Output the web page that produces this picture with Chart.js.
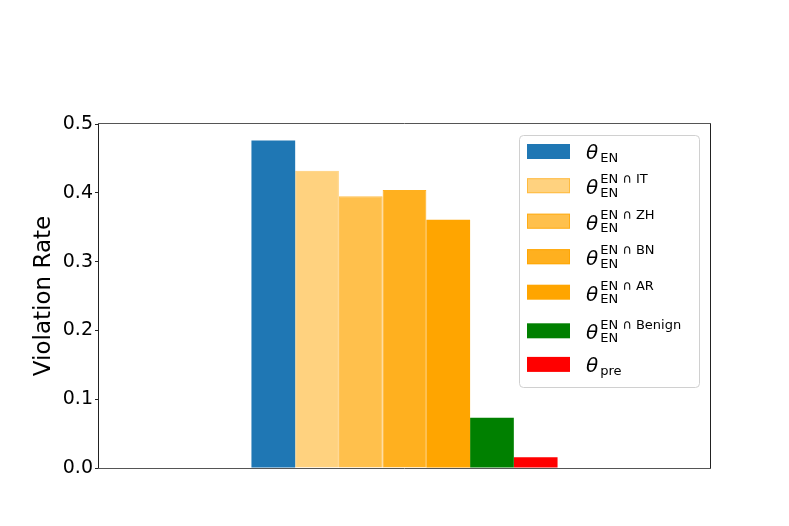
<!DOCTYPE html>
<html>
<head>
<meta charset="utf-8">
<script src="https://cdn.jsdelivr.net/npm/chart.js@4/dist/chart.umd.min.js"></script>
<style>
  html, body { margin: 0; padding: 0; background: #fff; }
  #wrap { width: 789px; height: 526px; }
</style>
</head>
<body>
<div id="wrap"><canvas id="c" width="789" height="526"></canvas></div>
<script>
// ---- data ----
const categories = [''];
const seriesNames = ['θ_EN', 'θ_EN^{EN ∩ IT}', 'θ_EN^{EN ∩ ZH}', 'θ_EN^{EN ∩ BN}', 'θ_EN^{EN ∩ AR}', 'θ_EN^{EN ∩ Benign}', 'θ_pre'];
const legendBase = ['θ', 'θ', 'θ', 'θ', 'θ', 'θ', 'θ'];
const legendSub = ['EN', 'EN', 'EN', 'EN', 'EN', 'EN', 'pre'];
const legendSup = ['', 'EN ∩ IT', 'EN ∩ ZH', 'EN ∩ BN', 'EN ∩ AR', 'EN ∩ Benign', ''];
const violationRates = [0.476, 0.432, 0.395, 0.404, 0.361, 0.073, 0.0155];
const yTicks = [0.0, 0.1, 0.2, 0.3, 0.4, 0.5];
const yTitle = 'Violation Rate';

// ---- styles ----
const fillColors = ['#1f77b4', 'rgba(255,165,0,0.5)', 'rgba(255,165,0,0.7)', 'rgba(255,165,0,0.88)', 'rgba(255,165,0,1)', '#008000', '#ff0000'];
const edgeColors = ['#1f77b4', 'rgba(255,165,0,0.5)', 'rgba(255,165,0,0.7)', 'rgba(255,165,0,0.88)', 'rgba(255,165,0,1)', '#008000', '#ff0000'];

const datasets = seriesNames.map((name, i) => ({
  label: name,
  data: [violationRates[i]],
  backgroundColor: fillColors[i],
  borderColor: edgeColors[i],
  borderWidth: (i >= 1 && i <= 3) ? 1 : 0,
  barPercentage: 1.0,
  categoryPercentage: 0.501
}));

const framePlugin = {
  id: 'frame',
  afterDatasetsDraw(chart) {
    const {ctx, chartArea: a} = chart;
    ctx.save();
    ctx.strokeStyle = '#222';
    ctx.lineWidth = 1;
    ctx.beginPath();
    ctx.moveTo(Math.round(a.left) - 0.5, a.top);
    ctx.lineTo(Math.round(a.left) - 0.5, a.bottom);
    ctx.moveTo(Math.round(a.right) + 0.5, a.top);
    ctx.lineTo(Math.round(a.right) + 0.5, a.bottom);
    ctx.stroke();
    ctx.strokeStyle = '#555';
    ctx.beginPath();
    ctx.moveTo(a.left - 1, Math.round(a.top) - 0.5);
    ctx.lineTo(a.right + 1, Math.round(a.top) - 0.5);
    ctx.moveTo(a.left - 1, Math.round(a.bottom) + 0.5);
    ctx.lineTo(a.right + 1, Math.round(a.bottom) + 0.5);
    ctx.stroke();
    ctx.restore();
  }
};

const mathLegendPlugin = {
  id: 'mathLegend',
  afterDraw(chart, args, opts) {
    const {ctx} = chart;
    const bx = opts.x, by = opts.y, bw = opts.w, bh = opts.h;
    ctx.save();
    ctx.fillStyle = 'rgba(255,255,255,0.8)';
    ctx.strokeStyle = '#d0d0d0';
    ctx.lineWidth = 1;
    ctx.beginPath();
    ctx.roundRect(bx + 0.5, by + 0.5, bw, bh, 4);
    ctx.fill();
    ctx.stroke();

    let cy = opts.firstCenter;
    chart.data.datasets.forEach((ds, i) => {
      if (i > 0) cy += opts.gaps[i - 1];
      // swatch
      ctx.fillStyle = ds.backgroundColor;
      ctx.fillRect(opts.swX, cy - opts.swH / 2, opts.swW, opts.swH);
      if (ds.borderWidth) {
        ctx.strokeStyle = ds.borderColor;
        ctx.lineWidth = 1;
        ctx.strokeRect(opts.swX + 0.5, cy - opts.swH / 2 + 0.5, opts.swW - 1, opts.swH - 1);
      }
      // text
      const base = cy + (legendSup[i] ? 8.3 : 7.5);
      ctx.fillStyle = '#000';
      ctx.textBaseline = 'alphabetic';
      ctx.textAlign = 'left';
      ctx.font = 'italic 20px "DejaVu Sans"';
      ctx.fillText(legendBase[i], opts.textX, base);
      const w = ctx.measureText(legendBase[i]).width;
      ctx.font = '13px "DejaVu Sans"';
      ctx.fillText(legendSub[i], opts.textX + w + 2, base + 2.6);
      if (legendSup[i]) {
        ctx.fillText(legendSup[i], opts.textX + w + 2, base - 10.6);
      }
    });
    ctx.restore();
  }
};

new Chart(document.getElementById('c'), {
  type: 'bar',
  data: { labels: categories, datasets },
  plugins: [framePlugin, mathLegendPlugin],
  options: {
    responsive: false,
    devicePixelRatio: 1,
    animation: false,
    layout: { padding: { top: 124, right: 79, left: 0, bottom: 0 } },
    plugins: {
      legend: { display: false },
      tooltip: { enabled: false },
      mathLegend: {
        x: 519, y: 135, w: 180, h: 252,
        firstCenter: 151.5,
        gaps: [34.2, 35.5, 35.5, 35.5, 38.6, 33.6],
        swX: 527, swW: 43, swH: 15,
        textX: 586
      }
    },
    scales: {
      x: {
        grid: { display: false },
        border: { display: false },
        ticks: { display: false },
        afterFit(s) { s.height = 58; }
      },
      y: {
        min: 0,
        max: 0.5,
        afterBuildTicks(s) { s.ticks = yTicks.map(v => ({ value: v })); },
        ticks: {
          color: '#000',
          padding: 2,
          font: { family: 'DejaVu Sans', size: 19 },
          callback: (v) => Number(v).toFixed(1)
        },
        grid: { drawOnChartArea: false, drawTicks: true, tickLength: 4, color: '#222', lineWidth: 1 },
        border: { display: false },
        title: {
          display: true,
          text: yTitle,
          color: '#000',
          font: { family: 'DejaVu Sans', size: 23 },
          padding: { top: 30, bottom: 0 }
        },
        afterFit(s) { s.width = 99; }
      }
    }
  }
});
</script>
</body>
</html>
